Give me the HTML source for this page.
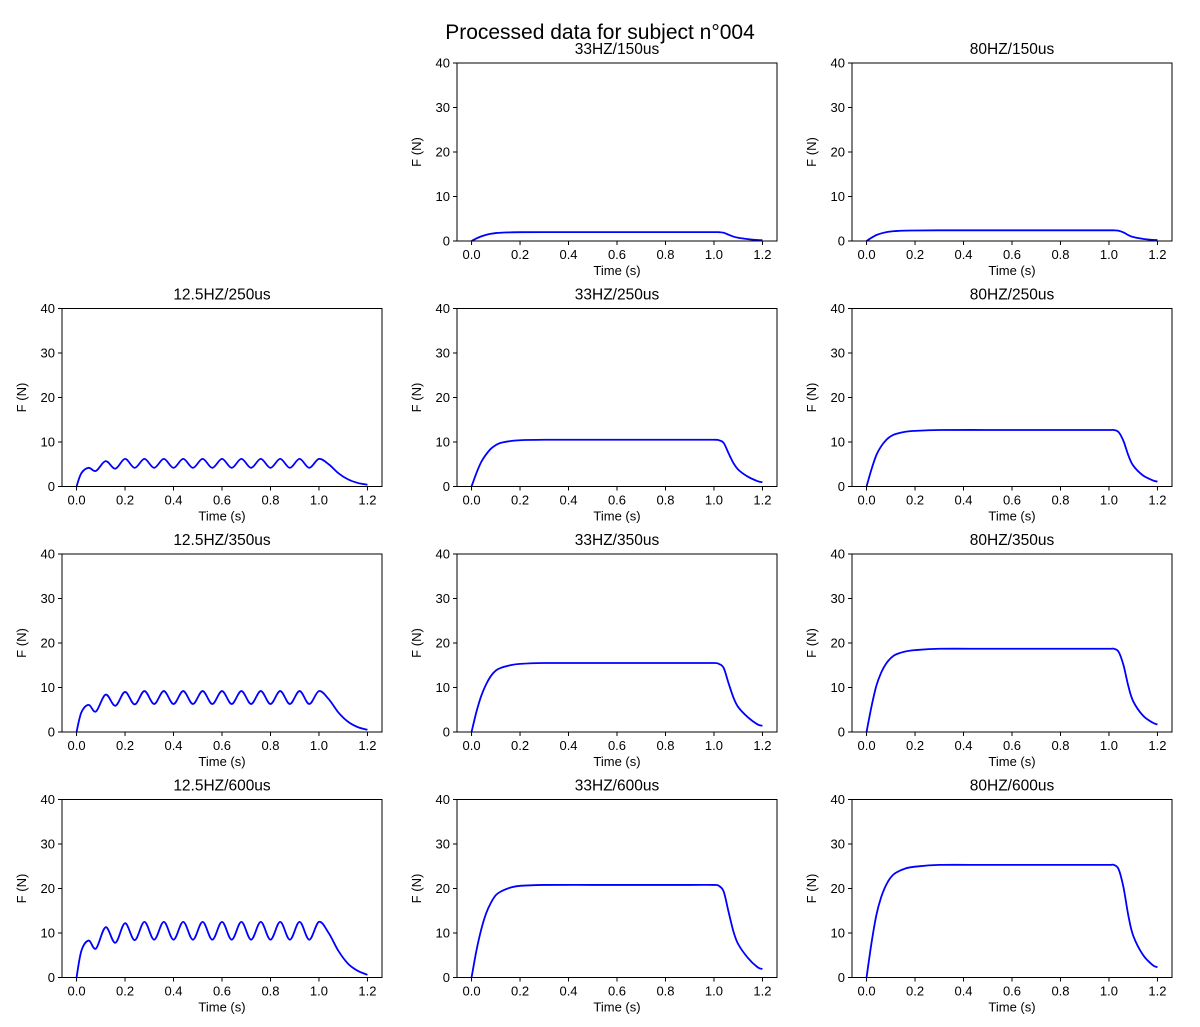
<!DOCTYPE html>
<html><head><meta charset="utf-8">
<style>
html,body{margin:0;padding:0;background:#fff;}
svg{display:block;font-family:"Liberation Sans","DejaVu Sans",sans-serif;}
</style></head>
<body>
<svg id="fig" width="1200" height="1027" viewBox="0 0 1200 1027" xmlns="http://www.w3.org/2000/svg">
<text x="600" y="39" text-anchor="middle" font-size="21" fill="#000">Processed data for subject n°004</text>
</svg>
<script>
const xTicks = [0.0, 0.2, 0.4, 0.6, 0.8, 1.0, 1.2];
const yTicks = [0, 10, 20, 30, 40];
const tSmooth = [0,0.02,0.04,0.06,0.08,0.1,0.12,0.16,0.2,0.3,0.5,0.7,0.9,1.0,1.02,1.04,1.06,1.08,1.1,1.14,1.18,1.2];
const tPulse = [0,0.02,0.05,0.08,0.12,0.16,0.2,0.24,0.28,0.32,0.36,0.4,0.44,0.48,0.52,0.56,0.6,0.64,0.68,0.72,0.76,0.8,0.84,0.88,0.92,0.96,1.0,1.04,1.08,1.12,1.16,1.2];
const f33_150 = [0,0.58,1.04,1.38,1.62,1.78,1.86,1.94,1.98,2,2,2,2,2,1.98,1.86,1.42,1.0,0.72,0.42,0.22,0.18];
const f33_250 = [0,3.0,5.5,7.2,8.5,9.3,9.8,10.2,10.4,10.5,10.5,10.5,10.5,10.5,10.4,9.8,7.5,5.3,3.8,2.2,1.2,0.95];
const f33_350 = [0,4.5,8.1,10.7,12.6,13.8,14.4,15.0,15.3,15.5,15.5,15.5,15.5,15.5,15.3,14.4,11.0,7.8,5.6,3.3,1.7,1.4];
const f33_600 = [0,6.0,10.8,14.4,16.8,18.5,19.3,20.2,20.6,20.8,20.8,20.8,20.8,20.8,20.6,19.3,14.8,10.4,7.5,4.4,2.3,1.9];
const f80_150 = [0,0.72,1.32,1.7,1.97,2.14,2.23,2.33,2.36,2.4,2.4,2.4,2.4,2.4,2.4,2.3,1.92,1.32,0.89,0.48,0.26,0.22];
const f80_250 = [0,3.8,7.0,9.0,10.4,11.3,11.8,12.3,12.5,12.7,12.7,12.7,12.7,12.7,12.7,12.2,10.2,7.0,4.7,2.5,1.4,1.1];
const f80_350 = [0,5.6,10.3,13.3,15.3,16.6,17.4,18.1,18.4,18.7,18.7,18.7,18.7,18.7,18.7,18.0,15.0,10.3,6.9,3.7,2.1,1.7];
const f80_600 = [0,7.6,13.9,18.0,20.7,22.5,23.5,24.5,24.9,25.3,25.3,25.3,25.3,25.3,25.3,24.3,20.2,13.9,9.4,5.1,2.8,2.3];
const f12_250 = [0,3.0,4.2,3.5,5.7,4.0,6.2,4.2,6.2,4.2,6.2,4.2,6.2,4.2,6.2,4.2,6.2,4.2,6.2,4.2,6.2,4.2,6.2,4.2,6.2,4.2,6.2,5.0,3.0,1.6,0.8,0.4];
const f12_350 = [0,4.4,6.1,4.6,8.4,5.9,9.0,6.2,9.2,6.3,9.2,6.3,9.2,6.3,9.2,6.3,9.2,6.3,9.2,6.3,9.2,6.3,9.2,6.3,9.2,6.3,9.2,7.4,4.4,2.3,1.1,0.5];
const f12_600 = [0,6.0,8.3,6.5,11.3,7.8,12.2,8.4,12.5,8.5,12.5,8.5,12.5,8.5,12.5,8.5,12.5,8.5,12.5,8.5,12.5,8.5,12.5,8.5,12.5,8.5,12.5,10.0,6.0,3.1,1.5,0.6];

const panels = [
  {name:'33hz-150us', title:'33HZ/150us', col:1,row:0,t:tSmooth,v:f33_150},
  {name:'80hz-150us', title:'80HZ/150us', col:2,row:0,t:tSmooth,v:f80_150},
  {name:'12-5hz-250us', title:'12.5HZ/250us', col:0,row:1,t:tPulse,v:f12_250},
  {name:'33hz-250us', title:'33HZ/250us', col:1,row:1,t:tSmooth,v:f33_250},
  {name:'80hz-250us', title:'80HZ/250us', col:2,row:1,t:tSmooth,v:f80_250},
  {name:'12-5hz-350us', title:'12.5HZ/350us', col:0,row:2,t:tPulse,v:f12_350},
  {name:'33hz-350us', title:'33HZ/350us', col:1,row:2,t:tSmooth,v:f33_350},
  {name:'80hz-350us', title:'80HZ/350us', col:2,row:2,t:tSmooth,v:f80_350},
  {name:'12-5hz-600us', title:'12.5HZ/600us', col:0,row:3,t:tPulse,v:f12_600},
  {name:'33hz-600us', title:'33HZ/600us', col:1,row:3,t:tSmooth,v:f33_600},
  {name:'80hz-600us', title:'80HZ/600us', col:2,row:3,t:tSmooth,v:f80_600}
];
const colX = [62, 457, 852], rowY = [63, 308.5, 554, 799.5];
const W = 320, H = 178;
const NS = 'http://www.w3.org/2000/svg';
const svg = document.getElementById('fig');
function mk(tag, attrs, parent){const e=document.createElementNS(NS,tag);for(const k in attrs)e.setAttribute(k,attrs[k]);parent.appendChild(e);return e;}
function smoothPath(pts){
  let d='M'+pts[0][0].toFixed(2)+','+pts[0][1].toFixed(2);
  for(let i=0;i<pts.length-1;i++){
    const p0=pts[Math.max(0,i-1)],p1=pts[i],p2=pts[i+1],p3=pts[Math.min(pts.length-1,i+2)];
    const c1x=p1[0]+(p2[0]-p0[0])/6,c1y=p1[1]+(p2[1]-p0[1])/6;
    const c2x=p2[0]-(p3[0]-p1[0])/6,c2y=p2[1]-(p3[1]-p1[1])/6;
    d+=' C'+c1x.toFixed(2)+','+c1y.toFixed(2)+' '+c2x.toFixed(2)+','+c2y.toFixed(2)+' '+p2[0].toFixed(2)+','+p2[1].toFixed(2);
  }
  return d;
}
panels.forEach(p=>{
  const x0=colX[p.col], y0=rowY[p.row];
  const sx=t=>x0+(t+0.06)/1.32*W;
  const sy=v=>y0+H-v/40*H;
  const g=mk('g',{},svg);
  
  
  const tt=mk('text',{x:x0+W/2,y:y0-9,'text-anchor':'middle','font-size':'15.5',fill:'#000'},g);
  tt.textContent=p.title;
  
  
  xTicks.forEach(t=>{
    const x=sx(t);
    mk('line',{x1:x,y1:y0+H,x2:x,y2:y0+H+4,stroke:'#000','stroke-width':1},g);
    const l=mk('text',{x:x,y:y0+H+18,'text-anchor':'middle','font-size':'13',fill:'#000'},g);
    l.textContent=t.toFixed(1);
    
    
  });
  yTicks.forEach(v=>{
    const y=sy(v);
    mk('line',{x1:x0-4,y1:y,x2:x0,y2:y,stroke:'#000','stroke-width':1},g);
    const l=mk('text',{x:x0-7,y:y+4.5,'text-anchor':'end','font-size':'13',fill:'#000'},g);
    l.textContent=v;
    
    
  });
  const xl=mk('text',{x:x0+W/2,y:y0+H+34,'text-anchor':'middle','font-size':'13',fill:'#000'},g);
  xl.textContent='Time (s)';
  
  
  const yx=x0-36, yy=y0+H/2;
  const yl=mk('text',{x:yx,y:yy,'text-anchor':'middle','font-size':'13',fill:'#000',transform:'rotate(-90 '+yx+' '+yy+')'},g);
  yl.textContent='F (N)';
  
  
  const pts=p.t.map((t,i)=>[sx(t),sy(p.v[i])]);
  const line=mk('path',{d:smoothPath(pts),fill:'none',stroke:'#0000ff','stroke-width':1.8,'clip-path':'none'},g);
  
  
  const fr=mk('rect',{x:x0,y:y0,width:W,height:H,fill:'none',stroke:'#000','stroke-width':1},g);
  
  
});
</script>
</body></html>
